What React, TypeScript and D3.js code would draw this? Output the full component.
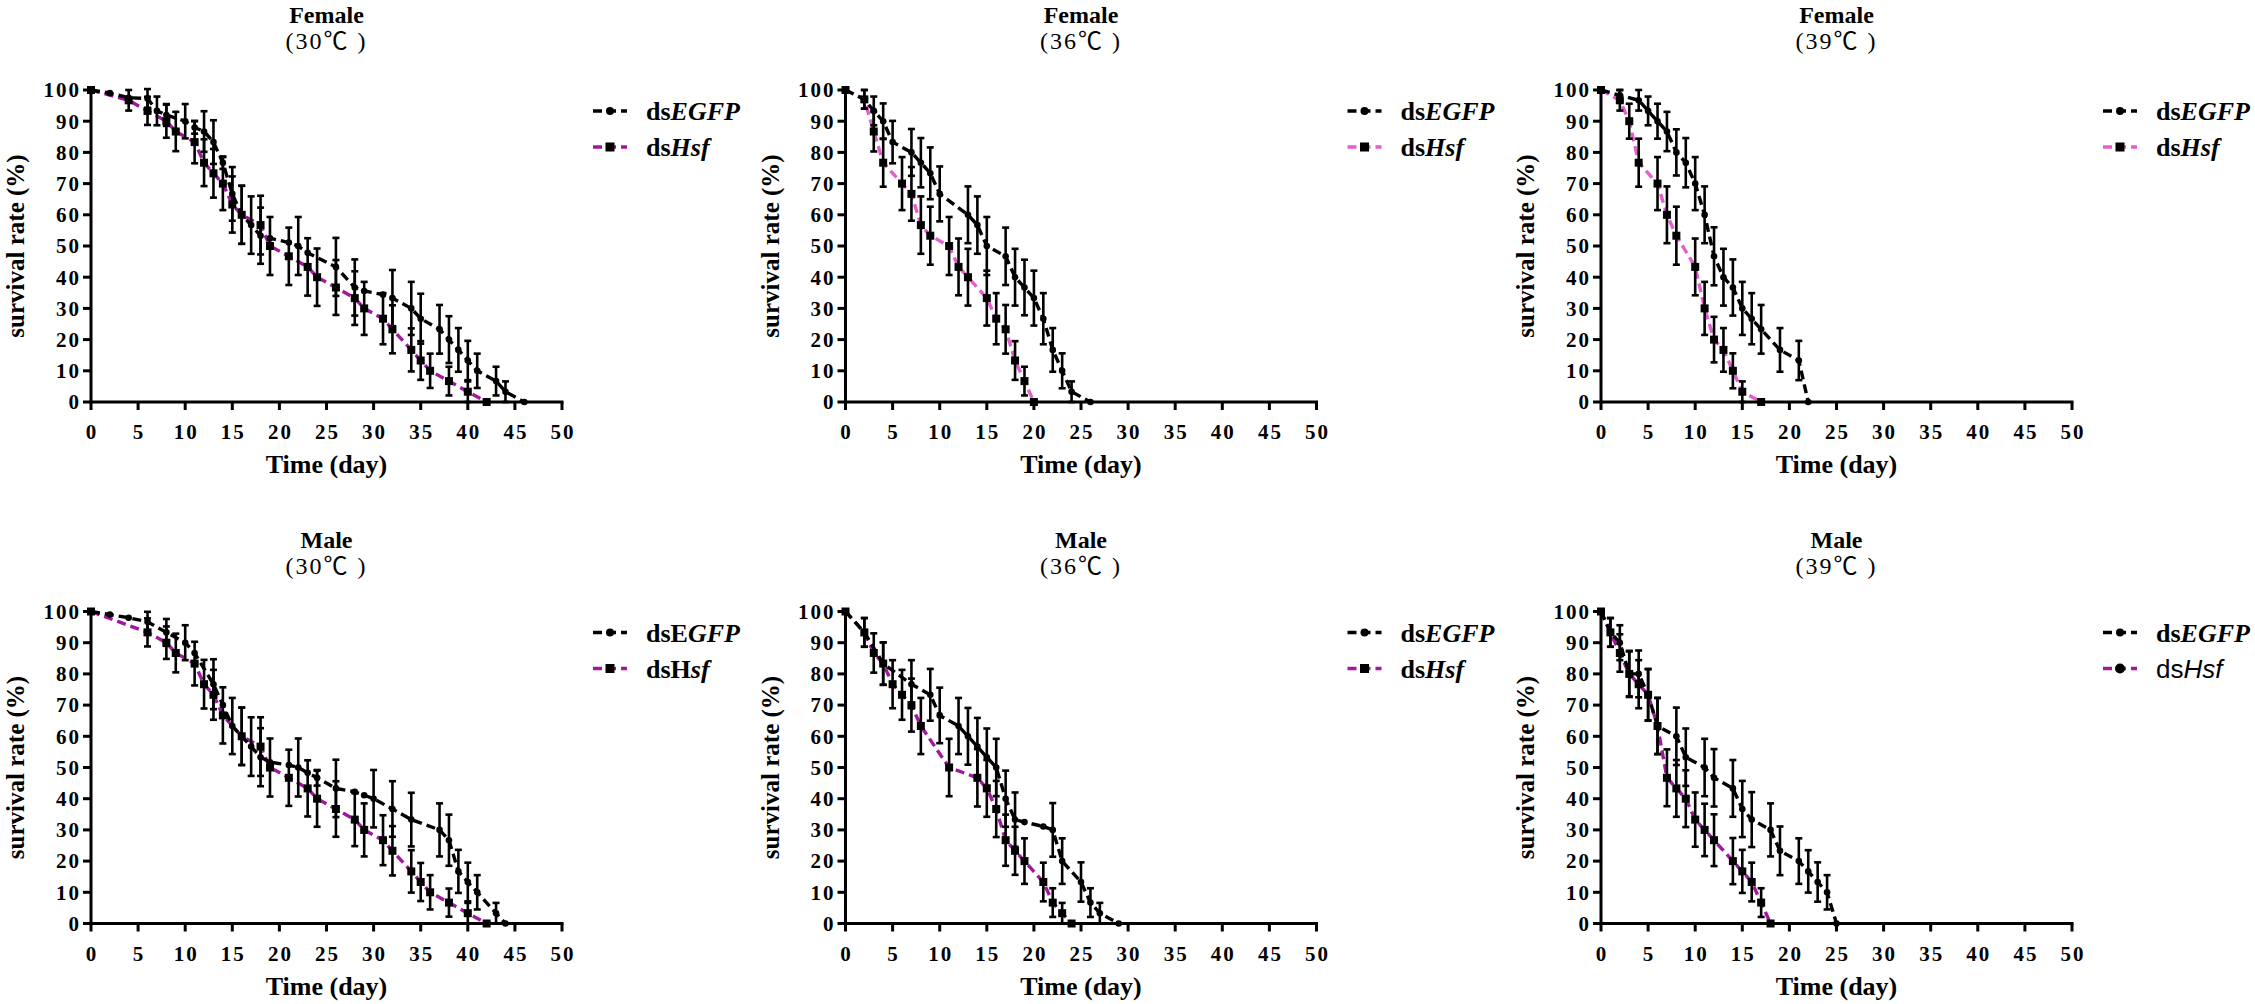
import * as d3 from "d3";

// [day, survival rate %, SE]
type Pt = [number, number, number];

const xTicks = [0, 5, 10, 15, 20, 25, 30, 35, 40, 45, 50];
const yTicks = [0, 10, 20, 30, 40, 50, 60, 70, 80, 90, 100];

// Female 30 ℃
const f30EGFP: Pt[] = [
  [0, 100, 0], [2, 99, 0], [4, 97.5, 0], [6, 97.3, 3], [7, 93.3, 4.6], [8, 92, 3.5],
  [10, 90, 5.5], [11, 88, 2], [12, 86.7, 6.5], [13, 83.3, 7], [14, 76.7, 2], [15, 66.7, 8.6],
  [16, 60, 9.3], [17, 56.7, 9.2], [18, 53.3, 9], [19, 52.5, 0], [21, 51.1, 0], [22, 50, 9.3],
  [23, 47.8, 0], [26, 43.3, 9.3], [28, 36.7, 9], [29, 35.6, 0], [31, 34.4, 0], [32, 33.3, 9],
  [34, 30, 8.5], [35, 26.7, 8], [37, 23.3, 7.8], [38, 20, 7.5], [39, 16.7, 7], [40, 13.3, 6.3],
  [41, 10, 5.5], [43, 6.7, 4.6], [44, 3.3, 3.3], [46, 0, 0],
];
const f30Hsf: Pt[] = [
  [0, 100, 0], [4, 96.7, 3.3], [6, 93.3, 4.5], [8, 90, 5.3], [9, 86.7, 6.3], [11, 83.3, 6.8],
  [12, 76.7, 7.5], [13, 73.3, 7.8], [14, 70, 8.5], [15, 63.3, 9], [16, 60, 9.3], [18, 56.7, 9.4],
  [19, 50, 9.3], [21, 46.7, 9.2], [23, 43.3, 9.2], [24, 40, 9.2], [26, 36.7, 8.8], [28, 33.3, 8.6],
  [29, 30, 8.5], [31, 26.7, 8.2], [32, 23.3, 7.7], [34, 16.7, 6.9], [35, 13.3, 6.2], [36, 10, 5.5],
  [38, 6.7, 4.6], [40, 3.3, 3.3], [42, 0, 0],
];

// Female 36 ℃
const f36EGFP: Pt[] = [
  [0, 100, 0], [2, 97, 3], [3, 93.3, 4.6], [4, 90, 5.7], [5, 83.3, 6.8], [7, 80, 7.5],
  [8, 76.7, 7.9], [9, 73.3, 8.3], [10, 66.7, 8.8], [13, 60, 9.1], [14, 56.7, 9.2], [15, 50, 9.3],
  [17, 46.7, 9.2], [18, 40, 9.1], [19, 36.7, 8.9], [20, 33.3, 8.8], [21, 26.7, 8.2], [22, 16.7, 7],
  [23, 10, 5.6], [24, 3.3, 3.3], [26, 0, 0],
];
const f36Hsf: Pt[] = [
  [0, 100, 0], [2, 97, 3], [3, 86.7, 6.4], [4, 76.7, 7.7], [6, 70, 8.5], [7, 66.7, 8.6],
  [8, 56.7, 9.2], [9, 53.3, 9.3], [11, 50, 9.3], [12, 43.3, 9.1], [13, 40, 9.1], [15, 33.3, 8.8],
  [16, 26.7, 8.2], [17, 23.3, 7.8], [18, 13.3, 6.2], [19, 6.7, 4.6], [20, 0, 0],
];

// Female 39 ℃
const f39EGFP: Pt[] = [
  [0, 100, 0], [2, 98.3, 1.7], [4, 96.7, 3.3], [5, 93.3, 4.6], [6, 90, 5.6], [7, 86.7, 6.3],
  [8, 80, 7.4], [9, 76.7, 7.9], [10, 70, 8.5], [11, 60, 9.1], [12, 46.7, 9.3], [13, 40, 9.1],
  [14, 36.7, 9], [15, 30, 8.5], [16, 26.7, 8.2], [17, 23.3, 7.8], [19, 16.7, 7], [21, 13.3, 6.3],
  [22, 0, 0],
];
const f39Hsf: Pt[] = [
  [0, 100, 0], [2, 96.7, 3.3], [3, 90, 5.6], [4, 76.7, 7.7], [6, 70, 8.5], [7, 60, 9.1],
  [8, 53.3, 9.3], [10, 43.3, 9.1], [11, 30, 8.5], [12, 20, 7.3], [13, 16.7, 7], [14, 10, 5.6],
  [15, 3.3, 3.3], [17, 0, 0],
];

// Male 30 ℃
const m30EGFP: Pt[] = [
  [0, 100, 0], [2, 99, 0], [4, 98, 0], [6, 96.7, 3.2], [8, 93.3, 4.3], [10, 90, 5.6],
  [11, 86.7, 0], [13, 76.7, 8], [14, 70, 0], [15, 63.3, 9], [16, 60, 9.2], [17, 56.7, 9.4],
  [18, 53.3, 9.3], [19, 51.7, 0], [21, 50.8, 0], [22, 50, 9.3], [23, 48.3, 0], [24, 46.7, 2.5],
  [26, 43.3, 9.2], [28, 42.2, 0], [29, 41.1, 0], [30, 40, 9.2], [32, 36.7, 8.9], [34, 33.3, 8.6],
  [37, 30, 8.5], [38, 26.7, 8.2], [39, 16.7, 6.9], [40, 13.3, 6.2], [41, 10, 5.5], [43, 3.3, 3.3],
  [44, 0, 0],
];
const m30Hsf: Pt[] = [
  [0, 100, 0], [6, 93.3, 4.5], [8, 90, 5.2], [9, 86.7, 6.2], [11, 83.3, 7], [12, 76.7, 7.8],
  [13, 73.3, 8], [14, 66.7, 9], [16, 60, 9.2], [18, 56.7, 9.4], [19, 50, 9.3], [21, 46.7, 9],
  [23, 43.3, 9], [24, 40, 9], [26, 36.7, 8.9], [28, 33.3, 8.5], [29, 30, 8.5], [31, 26.7, 8],
  [32, 23.3, 7.9], [34, 16.7, 6.8], [35, 13.3, 6.1], [36, 10, 5.5], [38, 6.7, 4.5], [40, 3.3, 3.3],
  [42, 0, 0],
];

// Male 36 ℃
const m36EGFP: Pt[] = [
  [0, 100, 0], [2, 93.3, 4.6], [4, 83.3, 6.8], [7, 76.7, 7.7], [9, 73.3, 8.3], [10, 66.7, 8.9],
  [12, 63.3, 9], [13, 60, 9.1], [14, 56.7, 9.2], [15, 53.3, 9.2], [16, 50, 9.2], [17, 40, 9],
  [18, 33.3, 8.7], [19, 32.5, 0], [21, 31.1, 0], [22, 30, 8.6], [23, 20, 7.3], [25, 13.3, 6.3],
  [26, 6.7, 4.6], [27, 3.3, 3.3], [29, 0, 0],
];
const m36Hsf: Pt[] = [
  [0, 100, 0], [2, 93.3, 4.6], [3, 86.7, 6.3], [4, 83.3, 6.8], [5, 76.7, 7.7], [6, 73.3, 8],
  [7, 70, 8.5], [8, 63.3, 9], [11, 50, 9.2], [14, 46.7, 9.2], [15, 43.3, 9.1], [16, 36.7, 9],
  [17, 26.7, 8.2], [18, 23.3, 7.7], [19, 20, 7.3], [21, 13.3, 6.2], [22, 6.7, 4.6], [23, 3.3, 3.3],
  [24, 0, 0],
];

// Male 39 ℃
const m39EGFP: Pt[] = [
  [0, 100, 0], [1, 93.3, 4.6], [2, 90, 5.6], [3, 80, 7.2], [4, 80, 7.5], [5, 73.3, 8.3],
  [6, 63.3, 9], [8, 60, 9.2], [9, 53.3, 9.2], [11, 50, 9.2], [12, 46.7, 9.2], [14, 43.3, 9.1],
  [15, 36.7, 9], [16, 33.3, 8.8], [18, 30, 8.5], [19, 23.3, 7.8], [21, 20, 7.3], [22, 16.7, 6.8],
  [23, 13.3, 6.3], [24, 10, 5.5], [25, 0, 0],
];
const m39Hsf: Pt[] = [
  [0, 100, 0], [1, 93.3, 4.6], [2, 86.7, 6], [3, 80, 7.4], [4, 76.7, 7.7], [5, 73.3, 8.2],
  [6, 63.3, 9], [7, 46.7, 9.1], [8, 43.3, 9.1], [9, 40, 9.1], [10, 33.3, 8.7], [11, 30, 8.4],
  [12, 26.7, 8.3], [14, 20, 7.4], [15, 16.7, 6.9], [16, 13.3, 6.2], [17, 6.7, 4.6], [18, 0, 0],
];

const PURPLE = "#a3169f";
const PINK = "#e35fcd";
const SERIF = "'Liberation Serif', 'Times New Roman', 'Noto Sans CJK SC', serif";
const SANS = "'Liberation Sans', Arial, sans-serif";

// layout (pixels)
const PLOT_W = 471;
const PLOT_H = 312;
const colX = [91, 845.5, 1601];
const rowTop = [90, 611.5];
const titleY = [23, 548];

type LegendKind = "normal" | "m30" | "m39";

const panels = [
  { sex: "Female", temp: "(30℃ )", egfp: f30EGFP, hsf: f30Hsf, color: PURPLE, col: 0, row: 0, legend: "normal" as LegendKind },
  { sex: "Female", temp: "(36℃ )", egfp: f36EGFP, hsf: f36Hsf, color: PINK, col: 1, row: 0, legend: "normal" as LegendKind },
  { sex: "Female", temp: "(39℃ )", egfp: f39EGFP, hsf: f39Hsf, color: PINK, col: 2, row: 0, legend: "normal" as LegendKind },
  { sex: "Male", temp: "(30℃ )", egfp: m30EGFP, hsf: m30Hsf, color: PURPLE, col: 0, row: 1, legend: "m30" as LegendKind },
  { sex: "Male", temp: "(36℃ )", egfp: m36EGFP, hsf: m36Hsf, color: PURPLE, col: 1, row: 1, legend: "normal" as LegendKind },
  { sex: "Male", temp: "(39℃ )", egfp: m39EGFP, hsf: m39Hsf, color: PURPLE, col: 2, row: 1, legend: "m39" as LegendKind },
];

function Panel({ p }: { p: (typeof panels)[number] }) {
  const x0 = colX[p.col];
  const top = rowTop[p.row];
  const x = d3.scaleLinear([0, 50], [x0, x0 + PLOT_W]);
  const y = d3.scaleLinear([0, 100], [top + PLOT_H, top]);
  const line = d3.line<Pt>().x((d) => x(d[0])).y((d) => y(d[1]));
  const cx = (x(0) + x(50)) / 2;
  const lx = x(50);

  const bars = (data: Pt[]) =>
    data
      .filter((d) => d[2] > 0)
      .map((d, i) => (
        <g key={i}>
          <line x1={x(d[0])} x2={x(d[0])} y1={y(d[1] - d[2])} y2={y(d[1] + d[2])} />
          <line x1={x(d[0]) - 3.5} x2={x(d[0]) + 3.5} y1={y(d[1] - d[2])} y2={y(d[1] - d[2])} />
          <line x1={x(d[0]) - 3.5} x2={x(d[0]) + 3.5} y1={y(d[1] + d[2])} y2={y(d[1] + d[2])} />
        </g>
      ));

  const egfpLabel =
    p.legend === "m30" ? (
      <>dsE<tspan fontStyle="italic">GFP</tspan></>
    ) : (
      <>ds<tspan fontStyle="italic">EGFP</tspan></>
    );
  const hsfLabel =
    p.legend === "m30" ? (
      <>dsH<tspan fontStyle="italic">sf</tspan></>
    ) : (
      <>ds<tspan fontStyle="italic">Hsf</tspan></>
    );

  const ly1 = top + 21;
  const ly2 = top + 57;

  return (
    <g>
      {/* titles */}
      <text x={cx} y={titleY[p.row]} textAnchor="middle" fontFamily={SERIF} fontWeight="bold" fontSize={24}>
        {p.sex}
      </text>
      <text x={cx} y={titleY[p.row] + 26} textAnchor="middle" fontFamily={SERIF} fontSize={24} letterSpacing={2}>
        {p.temp}
      </text>

      {/* lines */}
      <path d={line(p.hsf) ?? undefined} fill="none" stroke={p.color} strokeWidth={3.4} strokeDasharray="9 5" />
      <path d={line(p.egfp) ?? undefined} fill="none" stroke="#000" strokeWidth={3.4} strokeDasharray="9 5" />

      {/* error bars */}
      <g stroke="#000" strokeWidth={2.6}>
        {bars(p.hsf)}
        {bars(p.egfp)}
      </g>

      {/* markers */}
      <g fill="#000">
        {p.hsf.map((d, i) => (
          <rect key={i} x={x(d[0]) - 4} y={y(d[1]) - 4} width={8} height={8} />
        ))}
        {p.egfp.map((d, i) => (
          <circle key={i} cx={x(d[0])} cy={y(d[1])} r={3.3} />
        ))}
      </g>

      {/* axes */}
      <g stroke="#000" strokeWidth={3}>
        <line x1={x(0)} x2={x(50) + 1.5} y1={y(0)} y2={y(0)} />
        <line x1={x(0)} x2={x(0)} y1={y(0) + 1.5} y2={y(100) - 1.5} />
        {xTicks.map((t) => (
          <line key={t} x1={x(t)} x2={x(t)} y1={y(0)} y2={y(0) + 8} />
        ))}
        {yTicks.map((t) => (
          <line key={t} x1={x(0) - 8} x2={x(0)} y1={y(t)} y2={y(t)} />
        ))}
      </g>
      <g fontFamily={SERIF} fontWeight="bold" fontSize={21} letterSpacing={2}>
        {xTicks.map((t) => (
          <text key={t} x={x(t) + 1} y={y(0) + 37} textAnchor="middle">
            {t}
          </text>
        ))}
        {yTicks.map((t) => (
          <text key={t} x={x(0) - 10} y={y(t)} dy="0.35em" textAnchor="end">
            {t}
          </text>
        ))}
      </g>
      <text x={cx} y={y(0) + 71} textAnchor="middle" fontFamily={SERIF} fontWeight="bold" fontSize={26}>
        Time (day)
      </text>
      <text
        transform={`translate(${x(0) - 67},${(y(0) + y(100)) / 2}) rotate(-90)`}
        textAnchor="middle"
        fontFamily={SERIF}
        fontWeight="bold"
        fontSize={25}
      >
        survival rate (%)
      </text>

      {/* legend */}
      <line x1={lx + 31} x2={lx + 65} y1={ly1} y2={ly1} stroke="#000" strokeWidth={3.4} strokeDasharray="9 5" />
      <circle cx={lx + 48} cy={ly1} r={4} fill="#000" />
      <text x={lx + 84} y={ly1 + 9} fontFamily={SERIF} fontWeight="bold" fontSize={26}>
        {egfpLabel}
      </text>
      <line x1={lx + 31} x2={lx + 65} y1={ly2} y2={ly2} stroke={p.color} strokeWidth={3.4} strokeDasharray="9 5" />
      {p.legend === "m39" ? (
        <circle cx={lx + 48} cy={ly2} r={5} fill="#000" />
      ) : (
        <rect x={lx + 43.5} y={ly2 - 4.5} width={9} height={9} fill="#000" />
      )}
      {p.legend === "m39" ? (
        <text x={lx + 84} y={ly2 + 9} fontFamily={SANS} fontSize={26}>
          ds<tspan fontStyle="italic">Hsf</tspan>
        </text>
      ) : (
        <text x={lx + 84} y={ly2 + 9} fontFamily={SERIF} fontWeight="bold" fontSize={26}>
          {hsfLabel}
        </text>
      )}
    </g>
  );
}

export default function App() {
  return (
    <svg
      width={2255}
      height={1004}
      style={{ position: "absolute", left: 0, top: 0, background: "#fff", display: "block" }}
    >
      <rect width={2255} height={1004} fill="#fff" />
      {panels.map((p, i) => (
        <Panel key={i} p={p} />
      ))}
    </svg>
  );
}
